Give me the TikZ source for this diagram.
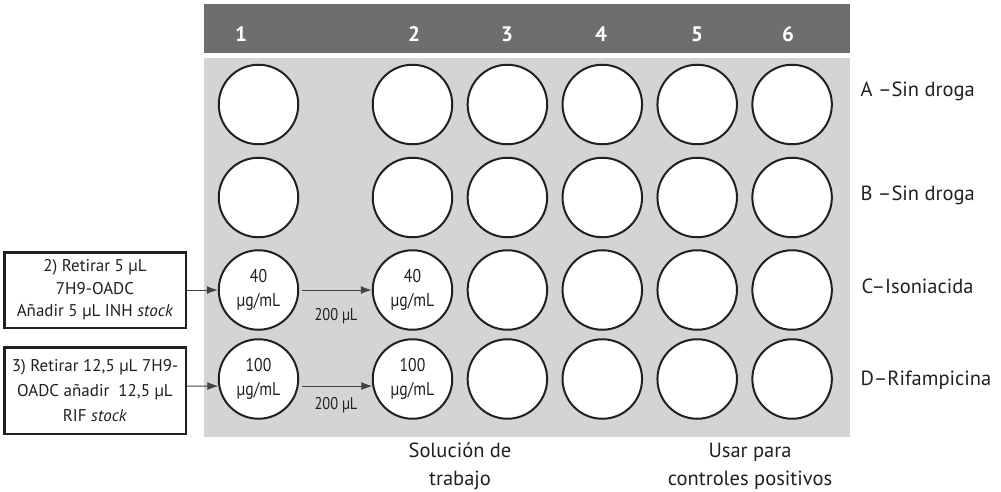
\documentclass[tikz,border=0pt]{standalone}
\usepackage{fontspec}
\setmainfont{PT Sans}
\newfontfamily\condfont[FakeStretch=0.85]{PT Sans}
\usetikzlibrary{arrows.meta}
\definecolor{plate}{HTML}{D3D4D6}
\definecolor{head}{HTML}{6D6E70}
\definecolor{ink}{HTML}{231F20}
\begin{document}
\begin{tikzpicture}[x=1pt,y=-1pt,
  well/.style={circle,draw=ink,line width=2pt,fill=white,minimum size=79.5pt,inner sep=0pt,
    font=\condfont\fontsize{18.5}{24}\selectfont,align=center,text=ink},
  colnum/.style={text=white,font=\bfseries\fontsize{21}{21}\selectfont},
  rowlab/.style={anchor=west,font=\fontsize{20.5}{20.5}\selectfont,text=ink},
  stepbox/.style={draw=ink,line width=2.5pt,fill=white,minimum width=181.5pt,inner sep=0pt,
    align=center,text=ink},
  flow/.style={draw=ink!85,line width=1pt,-{Latex[length=11pt,width=8pt]}},
  vol/.style={font=\condfont\fontsize{17}{17}\selectfont,text=ink},
  note/.style={align=center,font=\fontsize{20.5}{28}\selectfont,text=ink}
]
\useasboundingbox (0,0) rectangle (1001,492);
\fill[head] (204,4) rectangle (850,53);
\fill[plate] (204,58) rectangle (850,437);

% column numbers
\node[colnum] (n1) at (241,34) {1};
\node[colnum] (n2) at (414,34) {2};
\node[colnum] (n3) at (507,34) {3};
\node[colnum] (n4) at (601,34) {4};
\node[colnum] (n5) at (697,34) {5};
\node[colnum] (n6) at (788,34) {6};

% wells
\foreach \r/\y in {A/104.5,B/197.5,C/290,D/379}{
  \node[well] (w\r3) at (507.4,\y) {};
  \node[well] (w\r4) at (602.3,\y) {};
  \node[well] (w\r5) at (697.2,\y) {};
  \node[well] (w\r6) at (792.1,\y) {};
}
\node[well] (wA1) at (258.5,104.5) {};
\node[well] (wB1) at (258.5,197.5) {};
\node[well] (wA2) at (412.5,104.5) {};
\node[well] (wB2) at (412.5,197.5) {};
\node[well] (wC1) at (258.5,290) {40\\µg/mL};
\node[well] (wD1) at (258.5,379) {100\\µg/mL};
\node[well] (wC2) at (412.5,290) {40\\µg/mL};
\node[well] (wD2) at (412.5,379) {100\\µg/mL};

% row labels
\node[rowlab] (lA) at (857,91) {A –Sin droga};
\node[rowlab] (lB) at (857,195) {B –Sin droga};
\node[rowlab] (lC) at (858,286) {C–Isoniacida};
\node[rowlab] (lD) at (857,380) {D–Rifampicina};

% step boxes
\node[stepbox,minimum height=75.5pt,font=\fontsize{17}{22.5}\selectfont] (box2) at (95,290)
  {2) Retirar 5 µL\\7H9-OADC\\ Añadir 5 µL INH \textit{stock}};
\node[stepbox,minimum height=86.5pt,font=\fontsize{17}{25}\selectfont] (box3) at (95,390.5)
  {3) Retirar 12,5 µL 7H9-\\OADC añadir\ \ 12,5 µL\\RIF \textit{stock}};

% arrows
\draw[flow] (box2.east) -- (wC1.west);
\draw[flow] ([yshift=4.5pt]box3.east) -- (wD1.190);
\draw[flow,shorten <=3pt] (wC1.east) -- (wC2.west);
\draw[flow,shorten <=3pt] (wD1.350) -- (wD2.190);
\node[vol] (v1) at (336,316) {200 µL};
\node[vol] (v2) at (336,405) {200 µL};

% bottom notes
\node[note] (s1) at (460,466) {Solución de\\trabajo};
\node[note] (s2) at (750,466) {Usar para\\controles positivos};
\end{tikzpicture}
\end{document}
